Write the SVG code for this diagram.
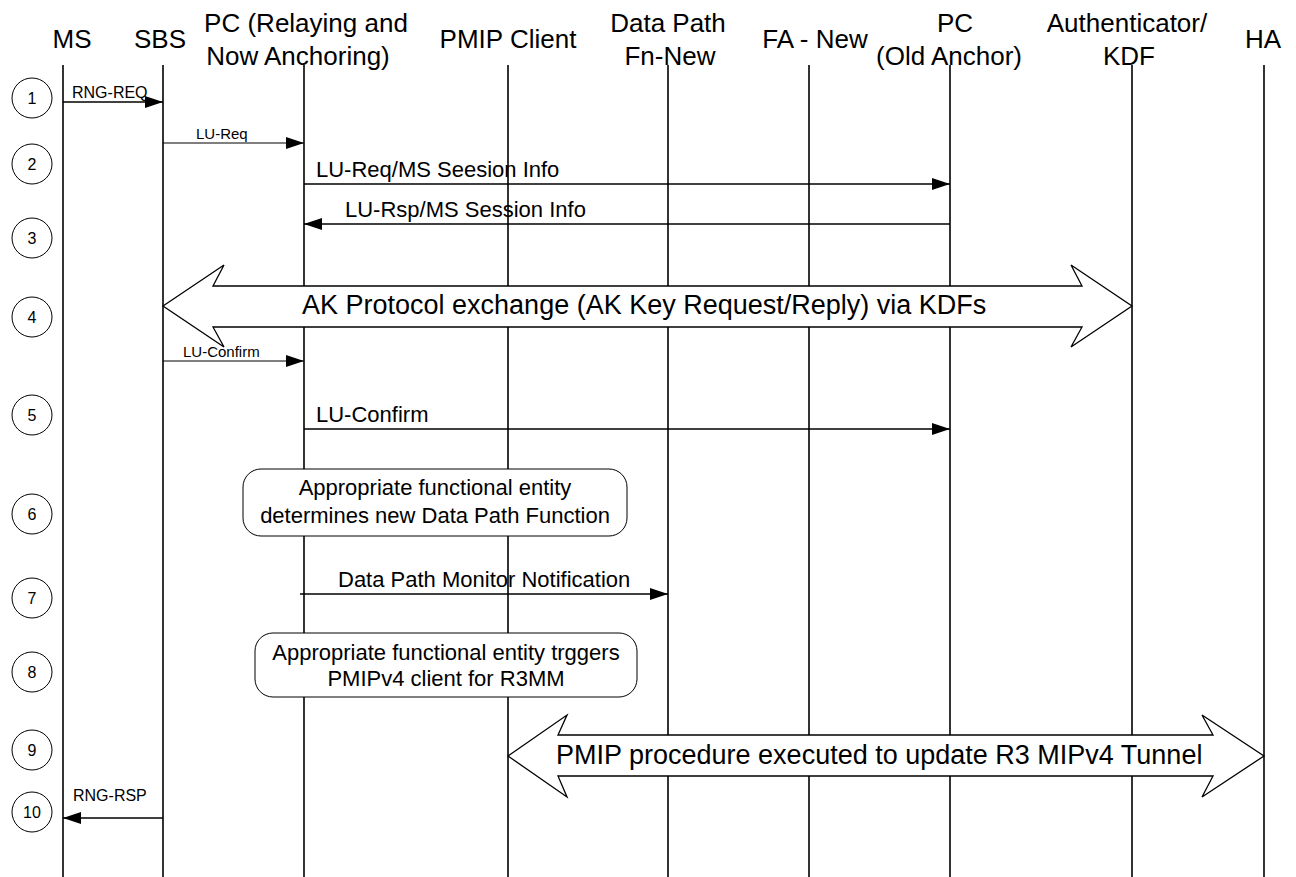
<svg xmlns="http://www.w3.org/2000/svg" width="1296" height="877" viewBox="0 0 1296 877">
<defs>
<marker id="ah" markerUnits="userSpaceOnUse" markerWidth="18" markerHeight="12" refX="18" refY="6" orient="auto">
<path d="M0,0 L18,6 L0,12 z" fill="#000"/>
</marker>
<style>
text{font-family:"Liberation Sans",Arial,sans-serif;fill:#000}
.hd{font-size:26px;text-anchor:middle}
.sm{font-size:15px}
.md{font-size:22px}
.bg{font-size:27px}
.bx{font-size:22px;text-anchor:middle}
.num{font-size:16px;text-anchor:middle}
.life{stroke:#000;stroke-width:1.6;fill:none}
.msg{stroke:#000;stroke-width:1.5;fill:none;marker-end:url(#ah)}
.msgs{stroke:#000;stroke-width:1.1;fill:none;marker-end:url(#ah)}
.note{fill:#fff;stroke:#000;stroke-width:1}
.big{fill:#fff;stroke:#000;stroke-width:1.3}
.step{fill:#fff;stroke:#000;stroke-width:1}
</style>
</defs>
<rect width="1296" height="877" fill="#fff"/>

<g id="node-ms"><text class="hd" x="72" y="48">MS</text><line class="life" x1="63" y1="65" x2="63" y2="877"/></g>
<g id="node-sbs"><text class="hd" x="160" y="48">SBS</text><line class="life" x1="163" y1="65" x2="163" y2="877"/></g>
<g id="node-pc-relay"><text class="hd" x="306" y="32">PC (Relaying and</text><text class="hd" x="298" y="65">Now Anchoring)</text><line class="life" x1="304" y1="65" x2="304" y2="877"/></g>
<g id="node-pmip"><text class="hd" x="508" y="48">PMIP Client</text><line class="life" x1="508" y1="65" x2="508" y2="877"/></g>
<g id="node-dp"><text class="hd" x="668" y="32">Data Path</text><text class="hd" x="670" y="65">Fn-New</text><line class="life" x1="668" y1="65" x2="668" y2="877"/></g>
<g id="node-fa"><text class="hd" x="815" y="48">FA - New</text><line class="life" x1="809" y1="65" x2="809" y2="877"/></g>
<g id="node-pc-old"><text class="hd" x="955" y="32">PC</text><text class="hd" x="949" y="65">(Old Anchor)</text><line class="life" x1="950" y1="65" x2="950" y2="877"/></g>
<g id="node-auth"><text class="hd" x="1127" y="32">Authenticator/</text><text class="hd" x="1129" y="65">KDF</text><line class="life" x1="1132" y1="65" x2="1132" y2="877"/></g>
<g id="node-ha"><text class="hd" x="1263" y="48">HA</text><line class="life" x1="1264" y1="65" x2="1264" y2="877"/></g>

<g id="steps">
<g id="step-1"><circle class="step" cx="32" cy="98" r="20"/><text class="num" x="32" y="104">1</text></g>
<g id="step-2"><circle class="step" cx="32" cy="164" r="20"/><text class="num" x="32" y="170">2</text></g>
<g id="step-3"><circle class="step" cx="32" cy="238" r="20"/><text class="num" x="32" y="244">3</text></g>
<g id="step-4"><circle class="step" cx="32" cy="317" r="20"/><text class="num" x="32" y="323">4</text></g>
<g id="step-5"><circle class="step" cx="32" cy="415" r="20"/><text class="num" x="32" y="421">5</text></g>
<g id="step-6"><circle class="step" cx="32" cy="514" r="20"/><text class="num" x="32" y="520">6</text></g>
<g id="step-7"><circle class="step" cx="32" cy="598" r="20"/><text class="num" x="32" y="604">7</text></g>
<g id="step-8"><circle class="step" cx="32" cy="672" r="20"/><text class="num" x="32" y="678">8</text></g>
<g id="step-9"><circle class="step" cx="32" cy="750" r="20"/><text class="num" x="32" y="756">9</text></g>
<g id="step-10"><circle class="step" cx="32" cy="812" r="20"/><text class="num" x="32" y="818">10</text></g>
</g>

<g id="note-6"><rect class="note" x="243" y="469" width="384" height="67" rx="18"/><text class="bx" x="435" y="495">Appropriate functional entity</text><text class="bx" x="435" y="523">determines new Data Path Function</text></g>
<g id="note-8"><rect class="note" x="255" y="633" width="382" height="64" rx="18"/><text class="bx" x="446" y="660">Appropriate functional entity trggers</text><text class="bx" x="446" y="686">PMIPv4 client for R3MM</text></g>

<g id="connectors">
<line class="msg" x1="63" y1="102" x2="163" y2="102"/>
<text class="sm" x="72" y="98" style="font-size:16px">RNG-REQ</text>
<line class="msgs" x1="163" y1="143" x2="304" y2="143"/>
<text class="sm" x="196" y="139">LU-Req</text>
<line class="msg" x1="304" y1="184" x2="950" y2="184"/>
<text class="md" x="316" y="177">LU-Req/MS Seesion Info</text>
<line class="msg" x1="950" y1="224" x2="304" y2="224"/>
<text class="md" x="345" y="217">LU-Rsp/MS Session Info</text>
<path class="big" d="M163,306 L224,265 L213,286 L1082,286 L1071,265 L1132,306 L1071,347 L1082,327 L213,327 L224,347 Z"/>
<text class="bg" x="302" y="314">AK Protocol exchange (AK Key Request/Reply) via KDFs</text>
<line class="msgs" x1="163" y1="361" x2="304" y2="361"/>
<text class="sm" x="183" y="357">LU-Confirm</text>
<line class="msg" x1="304" y1="429" x2="950" y2="429"/>
<text class="md" x="316" y="422">LU-Confirm</text>
<line class="msg" x1="300" y1="594" x2="668" y2="594"/>
<text class="md" x="338" y="587">Data Path Monitor Notification</text>
<path class="big" d="M508,756 L567,715 L558,735 L1213,735 L1202,715 L1264,756 L1202,797 L1213,776 L558,776 L567,797 Z"/>
<text class="bg" x="556" y="764">PMIP procedure executed to update R3 MIPv4 Tunnel</text>
<line class="msg" x1="163" y1="818" x2="63" y2="818"/>
<text class="sm" x="73" y="801" style="font-size:16px">RNG-RSP</text>
</g>
</svg>
